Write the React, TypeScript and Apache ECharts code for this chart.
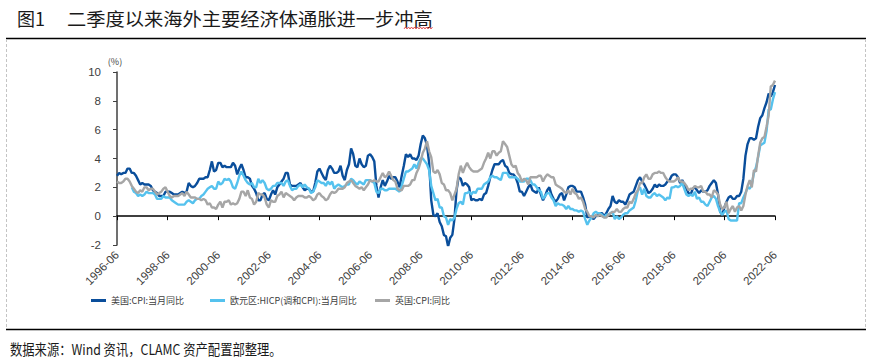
import React, { useEffect, useRef } from "react";
import * as echarts from "echarts";

// Monthly, 1996-06 .. 2022-06
const startYear = 1996;
const startMonth = 6;
const monthCount = 313;
const categories: string[] = [];
for (let i = 0; i < monthCount; i++) {
  const m = startMonth - 1 + i;
  const y = startYear + Math.floor(m / 12);
  const mm = (m % 12) + 1;
  categories.push(`${y}-${mm < 10 ? "0" + mm : mm}`);
}

const seriesNames = ["美国:CPI:当月同比", "欧元区:HICP(调和CPI):当月同比", "英国:CPI:同比"];

// 美国 CPI YoY (%)
const usCpi: number[] = [
  2.8, 3.0, 2.9, 3.0, 3.0, 3.3, 3.3,
  3.0, 3.0, 2.8, 2.5, 2.2, 2.3, 2.2, 2.2, 2.2, 2.1, 1.8, 1.7,
  1.6, 1.4, 1.4, 1.4, 1.7, 1.7, 1.7, 1.6, 1.5, 1.5, 1.5, 1.6,
  1.7, 1.6, 1.7, 2.3, 2.1, 2.0, 2.1, 2.3, 2.6, 2.6, 2.6, 2.7,
  2.7, 3.2, 3.8, 3.1, 3.2, 3.7, 3.7, 3.4, 3.5, 3.4, 3.4, 3.4,
  3.7, 3.5, 2.9, 3.3, 3.6, 3.2, 2.7, 2.7, 2.6, 2.1, 1.9, 1.6,
  1.1, 1.1, 1.5, 1.6, 1.2, 1.1, 1.5, 1.8, 1.5, 2.0, 2.2, 2.4,
  2.6, 3.0, 3.0, 2.2, 2.1, 2.1, 2.1, 2.2, 2.3, 2.0, 1.8, 1.9,
  1.9, 1.7, 1.7, 2.3, 3.1, 3.3, 3.0, 2.7, 2.5, 3.2, 3.5, 3.3,
  3.0, 3.0, 3.1, 3.5, 2.8, 2.5, 3.2, 3.6, 4.7, 4.3, 3.5, 3.4,
  4.0, 3.6, 3.4, 3.5, 4.2, 4.3, 4.1, 3.8, 2.1, 1.3, 2.0, 2.5,
  2.1, 2.4, 2.8, 2.6, 2.7, 2.7, 2.4, 2.0, 2.8, 3.5, 4.3, 4.1,
  4.3, 4.0, 4.0, 3.9, 4.2, 5.0, 5.6, 5.4, 4.9, 3.7, 1.1, 0.1,
  0.0, 0.2, -0.4, -0.7, -1.3, -1.4, -2.1, -1.5, -1.3, -0.2, 1.8, 2.7,
  2.6, 2.1, 2.3, 2.2, 2.0, 1.1, 1.2, 1.1, 1.1, 1.2, 1.1, 1.5,
  1.6, 2.1, 2.7, 3.2, 3.6, 3.6, 3.6, 3.8, 3.9, 3.5, 3.4, 3.0,
  2.9, 2.9, 2.7, 2.3, 1.7, 1.7, 1.4, 1.7, 2.0, 2.2, 1.8, 1.7,
  1.6, 2.0, 1.5, 1.1, 1.4, 1.8, 2.0, 1.5, 1.2, 1.0, 1.2, 1.5,
  1.6, 1.1, 1.5, 2.0, 2.1, 2.1, 2.0, 1.7, 1.7, 1.7, 1.3, 0.8,
  -0.1, 0.0, -0.1, -0.2, 0.0, 0.1, 0.2, 0.2, 0.0, 0.2, 0.5, 0.7,
  1.4, 1.0, 0.9, 1.1, 1.0, 1.0, 0.8, 1.1, 1.5, 1.6, 1.7, 2.1,
  2.5, 2.7, 2.4, 2.2, 1.9, 1.6, 1.7, 1.9, 2.2, 2.0, 2.2, 2.1,
  2.1, 2.2, 2.4, 2.5, 2.8, 2.9, 2.9, 2.7, 2.3, 2.5, 2.2, 1.9,
  1.6, 1.5, 1.9, 2.0, 1.8, 1.6, 1.8, 1.7, 1.7, 1.8, 2.1, 2.3,
  2.5, 2.3, 1.5, 0.3, 0.1, 0.6, 1.0, 1.3, 1.4, 1.2, 1.2, 1.4,
  1.4, 1.7, 2.6, 4.2, 5.0, 5.4, 5.4, 5.3, 5.4, 6.2, 6.8, 7.0,
  7.5, 7.9, 8.5, 8.3, 8.6, 9.1,
];

// 欧元区 HICP YoY (%) — starts 1997-01
const euHicp: (number | null)[] = [
  null, null, null, null, null, null, null,
  2.0, 1.7, 1.6, 1.4, 1.5, 1.4, 1.5, 1.7, 1.6, 1.6, 1.6, 1.5,
  1.2, 1.2, 1.2, 1.4, 1.3, 1.3, 1.3, 1.1, 1.0, 0.9, 0.8, 0.8,
  0.8, 0.8, 1.0, 1.1, 1.0, 0.9, 1.1, 1.2, 1.2, 1.4, 1.5, 1.7,
  1.9, 2.0, 2.1, 1.9, 1.9, 2.4, 2.2, 2.3, 2.6, 2.5, 2.6, 2.4,
  2.0, 1.9, 2.3, 2.8, 3.1, 2.8, 2.5, 2.3, 2.2, 2.3, 2.0, 2.0,
  2.6, 2.3, 2.5, 2.3, 1.9, 1.8, 1.9, 2.1, 2.1, 2.3, 2.3, 2.3,
  2.1, 2.4, 2.5, 2.1, 1.8, 1.9, 1.9, 2.1, 2.2, 2.0, 2.2, 2.0,
  1.9, 1.6, 1.7, 2.0, 2.5, 2.4, 2.3, 2.3, 2.1, 2.4, 2.2, 2.4,
  1.9, 2.1, 2.2, 2.1, 2.0, 2.1, 2.2, 2.2, 2.6, 2.5, 2.3, 2.2,
  2.4, 2.3, 2.2, 2.5, 2.5, 2.5, 2.4, 2.3, 1.7, 1.6, 1.9, 1.9,
  1.8, 1.8, 1.9, 1.9, 1.9, 1.9, 1.8, 1.7, 2.1, 2.6, 3.1, 3.1,
  3.2, 3.3, 3.6, 3.3, 3.7, 4.0, 4.0, 3.8, 3.6, 3.2, 2.1, 1.6,
  1.1, 1.2, 0.6, 0.6, 0.0, -0.1, -0.6, -0.2, -0.3, -0.1, 0.5, 0.9,
  1.0, 0.8, 1.6, 1.6, 1.7, 1.5, 1.7, 1.6, 1.9, 1.9, 1.9, 2.2,
  2.3, 2.4, 2.7, 2.8, 2.7, 2.7, 2.6, 2.5, 3.0, 3.0, 3.0, 2.7,
  2.7, 2.7, 2.7, 2.6, 2.4, 2.4, 2.4, 2.6, 2.6, 2.5, 2.2, 2.2,
  2.0, 1.8, 1.7, 1.2, 1.4, 1.6, 1.6, 1.3, 1.1, 0.7, 0.9, 0.8,
  0.8, 0.7, 0.5, 0.7, 0.5, 0.5, 0.4, 0.4, 0.3, 0.4, 0.3, -0.2,
  -0.6, -0.3, -0.1, 0.2, 0.3, 0.2, 0.2, 0.1, -0.1, 0.1, 0.1, 0.2,
  0.3, -0.2, 0.0, -0.2, -0.1, 0.1, 0.2, 0.2, 0.4, 0.5, 0.6, 1.1,
  1.8, 2.0, 1.5, 1.9, 1.4, 1.3, 1.3, 1.5, 1.6, 1.4, 1.5, 1.4,
  1.3, 1.1, 1.3, 1.2, 2.0, 2.0, 2.1, 2.0, 2.1, 2.3, 1.9, 1.5,
  1.4, 1.5, 1.4, 1.7, 1.2, 1.3, 1.0, 1.0, 0.8, 0.7, 1.0, 1.3,
  1.4, 1.2, 0.7, 0.3, 0.1, 0.3, 0.4, -0.2, -0.3, -0.3, -0.3, -0.3,
  0.9, 0.9, 1.3, 1.6, 2.0, 1.9, 2.2, 3.0, 3.4, 4.1, 4.9, 5.0,
  5.1, 5.9, 7.4, 7.4, 8.1, 8.6,
];

// 英国 CPI YoY (%)
const ukCpi: number[] = [
  2.4, 2.3, 2.3, 2.4, 2.6, 2.6, 2.4,
  2.1, 1.9, 1.7, 1.6, 1.8, 1.7, 2.0, 2.0, 1.8, 1.9, 1.9, 1.7,
  1.5, 1.6, 1.7, 1.9, 2.0, 1.7, 1.4, 1.3, 1.4, 1.4, 1.4, 1.5,
  1.6, 1.4, 1.7, 1.5, 1.3, 1.3, 1.3, 1.2, 1.2, 1.1, 1.2, 1.1,
  0.8, 0.9, 0.6, 0.6, 0.5, 0.8, 1.0, 0.6, 1.0, 1.0, 1.1, 0.8,
  0.9, 0.8, 0.9, 1.2, 1.7, 1.7, 1.4, 1.8, 1.3, 1.2, 0.8, 1.0,
  1.6, 1.5, 1.5, 1.3, 0.8, 0.6, 1.1, 1.0, 1.0, 1.4, 1.5, 1.7,
  1.3, 1.6, 1.5, 1.4, 1.3, 1.1, 1.3, 1.4, 1.4, 1.4, 1.3, 1.3,
  1.4, 1.3, 1.1, 1.2, 1.5, 1.6, 1.4, 1.3, 1.1, 1.2, 1.5, 1.7,
  1.6, 1.7, 1.9, 1.9, 1.9, 2.0, 2.3, 2.4, 2.5, 2.3, 2.1, 2.0,
  1.9, 2.0, 1.8, 2.0, 2.2, 2.5, 2.4, 2.5, 2.4, 2.4, 2.7, 3.0,
  2.7, 2.8, 3.1, 2.8, 2.5, 2.4, 1.9, 1.8, 1.8, 2.1, 2.1, 2.1,
  2.2, 2.5, 2.5, 3.0, 3.3, 3.8, 4.4, 4.7, 5.2, 4.5, 4.1, 3.1,
  3.0, 3.2, 2.9, 2.3, 2.2, 1.8, 1.8, 1.6, 1.1, 1.5, 1.9, 2.9,
  3.5, 3.0, 3.4, 3.7, 3.4, 3.2, 3.1, 3.1, 3.1, 3.2, 3.3, 3.7,
  4.0, 4.4, 4.0, 4.5, 4.5, 4.2, 4.4, 4.5, 5.2, 5.0, 4.8, 4.2,
  3.6, 3.4, 3.5, 3.0, 2.8, 2.4, 2.6, 2.5, 2.2, 2.7, 2.7, 2.7,
  2.7, 2.8, 2.8, 2.4, 2.7, 2.9, 2.8, 2.7, 2.7, 2.2, 2.1, 2.0,
  1.9, 1.7, 1.6, 1.8, 1.5, 1.9, 1.6, 1.5, 1.2, 1.3, 1.0, 0.5,
  0.3, 0.0, 0.0, -0.1, 0.1, 0.0, 0.1, 0.0, -0.1, -0.1, 0.1, 0.2,
  0.3, 0.3, 0.5, 0.3, 0.3, 0.5, 0.6, 0.6, 1.0, 0.9, 1.2, 1.6,
  1.8, 2.3, 2.3, 2.7, 2.9, 2.6, 2.6, 2.9, 3.0, 3.0, 3.1, 3.0,
  3.0, 2.7, 2.5, 2.4, 2.4, 2.4, 2.5, 2.7, 2.4, 2.4, 2.3, 2.1,
  1.8, 1.9, 1.9, 2.1, 2.0, 2.0, 2.1, 1.7, 1.7, 1.5, 1.5, 1.3,
  1.8, 1.7, 1.5, 0.8, 0.5, 0.6, 1.0, 0.2, 0.5, 0.7, 0.3, 0.6,
  0.7, 0.4, 0.7, 1.5, 2.1, 2.5, 2.0, 3.2, 3.1, 4.2, 5.1, 5.4,
  5.5, 6.2, 7.0, 9.0, 9.1, 9.4,
];

const colors = ["#0A4E9B", "#55C2EE", "#A6A6A6"];
const legendLefts = [86, 205, 370];

const titleNo = "图1";
const titleText = "二季度以来海外主要经济体通胀进一步冲高";
const sourceText = "数据来源：Wind 资讯，CLAMC 资产配置部整理。";
const unitText = "(%)";

export default function App() {
  const ref = useRef<HTMLDivElement>(null);
  useEffect(() => {
    document.body.style.margin = "0";
    if (!ref.current) return;
    const chart = echarts.init(ref.current, undefined, { renderer: "svg" });
    const axisFont = "'Liberation Sans', Arial, sans-serif";
    const cjkFont = "'Noto Sans CJK SC', sans-serif";
    const dataSets = [usCpi, euHicp, ukCpi];

    // zigzag points for the wavy underline (decorative)
    const wavy: number[][] = [];
    for (let x = 404, k = 0; x <= 433; x += 1.5, k++) wavy.push([x, k % 2 === 0 ? 29 : 27]);

    chart.setOption({
      animation: false,
      backgroundColor: "#ffffff",
      grid: { left: 117, right: 99, top: 72, bottom: 118, containLabel: false },
      xAxis: [
        {
          type: "category",
          data: categories,
          boundaryGap: false,
          position: "bottom",
          axisLine: { show: false, onZero: false },
          axisTick: { show: false },
          axisLabel: {
            interval: 23,
            rotate: 45,
            margin: 8,
            fontSize: 11.5,
            color: "#404040",
            fontFamily: axisFont,
          },
          splitLine: { show: false },
        },
        {
          type: "category",
          data: categories,
          boundaryGap: false,
          position: "bottom",
          axisLine: { show: true, onZero: true, lineStyle: { color: "#000000", width: 1.5 } },
          axisTick: { show: true, interval: 23, length: 4, lineStyle: { color: "#000000", width: 1 } },
          axisLabel: { show: false },
          splitLine: { show: false },
        },
      ],
      yAxis: {
        type: "value",
        min: -2,
        max: 10,
        interval: 2,
        name: unitText,
        nameLocation: "end",
        nameGap: 6,
        nameTextStyle: { fontSize: 9, color: "#404040", fontFamily: cjkFont, padding: [0, 0, 0, -4] },
        axisLine: { show: true, lineStyle: { color: "#404040", width: 1.5 } },
        axisTick: { show: true, length: 4, lineStyle: { color: "#404040", width: 1 } },
        axisLabel: { margin: 16, fontSize: 11.5, color: "#404040", fontFamily: axisFont },
        splitLine: { show: false },
      },
      legend: seriesNames.map((n, i) => ({
        data: [n],
        left: legendLefts[i],
        top: 291,
        icon: "rect",
        itemWidth: 15,
        itemHeight: 3,
        itemGap: 10,
        textStyle: { fontSize: 9, color: "#404040", fontFamily: cjkFont },
      })),
      series: seriesNames.map((n, i) => ({
        name: n,
        type: "line",
        xAxisIndex: 0,
        data: dataSets[i],
        showSymbol: false,
        symbol: "none",
        connectNulls: false,
        lineStyle: { color: colors[i], width: 2.4 },
        itemStyle: { color: colors[i] },
      })),
      graphic: [
        {
          type: "text",
          x: 17,
          y: 18,
          style: { text: titleNo, fontSize: 18, fill: "#1a1a1a", fontFamily: cjkFont, verticalAlign: "middle" },
        },
        {
          type: "text",
          x: 67,
          y: 18,
          scaleX: 1.07,
          style: { text: titleText, fontSize: 18, fill: "#1a1a1a", fontFamily: cjkFont, verticalAlign: "middle" },
        },
        {
          type: "polyline",
          shape: { points: wavy },
          style: { stroke: "#E03030", lineWidth: 0.8, fill: null },
        },
        {
          type: "line",
          shape: { x1: 6, y1: 38.5, x2: 866, y2: 38.5 },
          style: { stroke: "#000000", lineWidth: 1.5 },
        },
        {
          type: "line",
          shape: { x1: 6, y1: 329.5, x2: 866, y2: 329.5 },
          style: { stroke: "#000000", lineWidth: 1.5 },
        },
        {
          type: "line",
          shape: { x1: 6.5, y1: 39, x2: 6.5, y2: 329 },
          style: { stroke: "#C4C4C4", lineWidth: 1, lineDash: [3, 2] },
        },
        {
          type: "line",
          shape: { x1: 865.5, y1: 39, x2: 865.5, y2: 329 },
          style: { stroke: "#C4C4C4", lineWidth: 1, lineDash: [3, 2] },
        },
        {
          type: "text",
          x: 10,
          y: 349,
          scaleX: 0.85,
          style: { text: sourceText, fontSize: 14.5, fill: "#1a1a1a", fontFamily: cjkFont, verticalAlign: "middle" },
        },
      ],
    });
    return () => chart.dispose();
  }, []);
  return <div ref={ref} style={{ width: 874, height: 363 }} />;
}
